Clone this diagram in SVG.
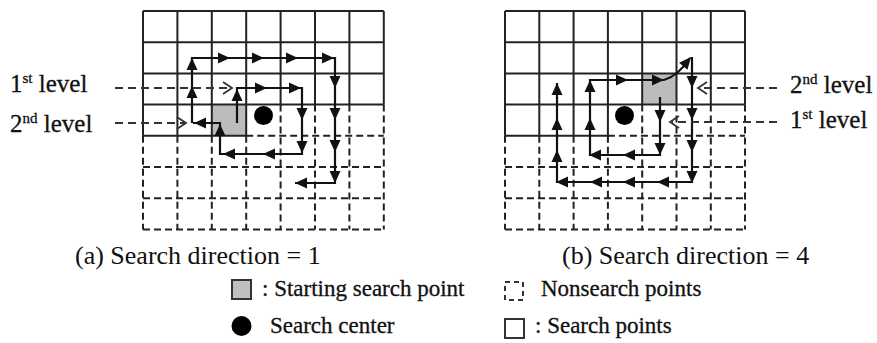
<svg xmlns="http://www.w3.org/2000/svg" xmlns:xlink="http://www.w3.org/1999/xlink" width="877" height="343" viewBox="0 0 877 343">
<style>
.g{stroke:#222;stroke-width:2;fill:none}
.d{stroke:#222;stroke-width:2;fill:none;stroke-dasharray:7 4}
.p{stroke:#111;stroke-width:2.2;fill:none}
.l{stroke:#333;stroke-width:1.8;fill:none;stroke-dasharray:8 5}
.c{stroke:#333;stroke-width:1.8;fill:none}
.t{font-family:"Liberation Serif","Times New Roman",serif;fill:#111;stroke:#111;stroke-width:0.3}
.gray{fill:#bcbcbc}
</style>
<defs>
<polygon id="ah" points="0,0 -12,-5.5 -12,5.5" fill="#111"/>
</defs>
<rect width="877" height="343" fill="#fff"/>

<g id="gridA">
<rect class="gray" x="211.8" y="104.6" width="34.4" height="31.2"/>
<path class="g" d="M143,11H383.8M143,42.2H383.8M143,73.4H383.8M143,104.6H383.8M143,135.8H246.2M143,11V135.8M177.4,11V135.8M211.8,11V135.8M246.2,11V135.8M280.6,11V104.6M315,11V104.6M349.4,11V104.6M383.8,11V104.6"/>
<path class="d" d="M246.2,135.8H383.8M143,167H383.8M143,198.2H383.8M143,229.4H383.8M143,135.8V229.4M177.4,135.8V229.4M211.8,135.8V229.4M246.2,135.8V229.4M280.6,104.6V229.4M315,104.6V229.4M349.4,104.6V229.4M383.8,104.6V229.4"/>
<circle cx="263.5" cy="115.5" r="9.5" fill="#000"/>
</g>

<g id="gridB">
<rect class="gray" x="642.2" y="73.4" width="34.3" height="31.2"/>
<path class="g" d="M505,11H745M505,42.2H745M505,73.4H745M505,104.6H745M505,135.8H607.9M505,11V135.8M539.3,11V135.8M573.6,11V135.8M607.9,11V135.8M642.2,11V104.6M676.5,11V104.6M710.8,11V104.6M745,11V104.6"/>
<path class="d" d="M607.9,135.8H745M505,167H745M505,198.2H745M505,229.4H745M505,135.8V229.4M539.3,135.8V229.4M573.6,135.8V229.4M607.9,135.8V229.4M642.2,104.6V229.4M676.5,104.6V229.4M710.8,104.6V229.4M745,104.6V229.4"/>
<circle cx="624.5" cy="115.5" r="9.5" fill="#000"/>
</g>

<g id="connectors">
<!-- (a) 1st level -->
<polyline class="p" points="237,123 237,88 302,88 302,154 220,154 220,123 193,123"/>
<use xlink:href="#ah" transform="translate(237,89) rotate(-90)"/>
<use xlink:href="#ah" transform="translate(267,88)"/>
<use xlink:href="#ah" transform="translate(301,88)"/>
<use xlink:href="#ah" transform="translate(302,120) rotate(90)"/>
<use xlink:href="#ah" transform="translate(302,153) rotate(90)"/>
<use xlink:href="#ah" transform="translate(263,154) rotate(180)"/>
<use xlink:href="#ah" transform="translate(223,154) rotate(180)"/>
<use xlink:href="#ah" transform="translate(220,124) rotate(-90)"/>
<use xlink:href="#ah" transform="translate(194,123) rotate(180)"/>
<!-- (a) 2nd level -->
<polyline class="p" points="192,123 192,58 335,58 335,183 295,183"/>
<use xlink:href="#ah" transform="translate(192,86) rotate(-90)"/>
<use xlink:href="#ah" transform="translate(192,58) rotate(-90)"/>
<use xlink:href="#ah" transform="translate(230,58)"/>
<use xlink:href="#ah" transform="translate(264,58)"/>
<use xlink:href="#ah" transform="translate(298,58)"/>
<use xlink:href="#ah" transform="translate(334,58)"/>
<use xlink:href="#ah" transform="translate(335,88) rotate(90)"/>
<use xlink:href="#ah" transform="translate(335,120) rotate(90)"/>
<use xlink:href="#ah" transform="translate(335,152) rotate(90)"/>
<use xlink:href="#ah" transform="translate(335,183) rotate(90)"/>
<use xlink:href="#ah" transform="translate(295,183) rotate(180)"/>
<!-- (b) 1st level -->
<polyline class="p" points="660,97 660,155 590,155 590,80 664,80"/>
<path class="p" d="M664,80 Q678,76 690,58"/>
<use xlink:href="#ah" transform="translate(660,122) rotate(90)"/>
<use xlink:href="#ah" transform="translate(660,155) rotate(90)"/>
<use xlink:href="#ah" transform="translate(623,155) rotate(180)"/>
<use xlink:href="#ah" transform="translate(589,155) rotate(180)"/>
<use xlink:href="#ah" transform="translate(590,118) rotate(-90)"/>
<use xlink:href="#ah" transform="translate(590,80) rotate(-90)"/>
<use xlink:href="#ah" transform="translate(628,80)"/>
<use xlink:href="#ah" transform="translate(664,80)"/>
<use xlink:href="#ah" transform="translate(691,57) rotate(-50)"/>
<!-- (b) 2nd level -->
<polyline class="p" points="692,57 692,182 557,182 557,83"/>
<use xlink:href="#ah" transform="translate(692,88) rotate(90)"/>
<use xlink:href="#ah" transform="translate(692,120) rotate(90)"/>
<use xlink:href="#ah" transform="translate(692,152) rotate(90)"/>
<use xlink:href="#ah" transform="translate(692,183) rotate(90)"/>
<use xlink:href="#ah" transform="translate(657,182) rotate(180)"/>
<use xlink:href="#ah" transform="translate(623,182) rotate(180)"/>
<use xlink:href="#ah" transform="translate(590,182) rotate(180)"/>
<use xlink:href="#ah" transform="translate(556,182) rotate(180)"/>
<use xlink:href="#ah" transform="translate(557,150) rotate(-90)"/>
<use xlink:href="#ah" transform="translate(557,118) rotate(-90)"/>
<use xlink:href="#ah" transform="translate(557,83) rotate(-90)"/>
<!-- level leaders -->
<path class="l" d="M115,88H230M115,123H185M777,88H700M777,122H672"/>
<path class="c" d="M223,82L232,88L223,94M177,117L186,123L177,129M707,82L698,88L707,94M679,116L670,122L679,128"/>
</g>

<g id="labels">
<text class="t" x="10" y="92" font-size="25">1<tspan font-size="15" dy="-9">st</tspan><tspan dy="9"> level</tspan></text>
<text class="t" x="10" y="132" font-size="25">2<tspan font-size="15" dy="-9">nd</tspan><tspan dy="9"> level</tspan></text>
<text class="t" x="790" y="93" font-size="25">2<tspan font-size="15" dy="-9">nd</tspan><tspan dy="9"> level</tspan></text>
<text class="t" x="790" y="128" font-size="25">1<tspan font-size="15" dy="-9">st</tspan><tspan dy="9"> level</tspan></text>
<text class="t" x="75" y="264" font-size="26" style="stroke-width:0">(a) Search direction = 1</text>
<text class="t" x="562" y="264" font-size="26" style="stroke-width:0">(b) Search direction = 4</text>
</g>

<g id="legend">
<rect x="232" y="280" width="19" height="19" fill="#c0c0c0" stroke="#333" stroke-width="2"/>
<text class="t" x="262" y="296" font-size="23">: Starting search point</text>
<circle cx="241.5" cy="326" r="10" fill="#000"/>
<text class="t" x="270" y="333" font-size="23">Search center</text>
<rect x="505" y="282" width="18" height="18" fill="none" stroke="#333" stroke-width="2" stroke-dasharray="5 4"/>
<text class="t" x="541" y="296" font-size="23">Nonsearch points</text>
<rect x="505" y="319" width="19" height="19" fill="none" stroke="#333" stroke-width="2"/>
<text class="t" x="535" y="333" font-size="23">: Search points</text>
</g>
</svg>
